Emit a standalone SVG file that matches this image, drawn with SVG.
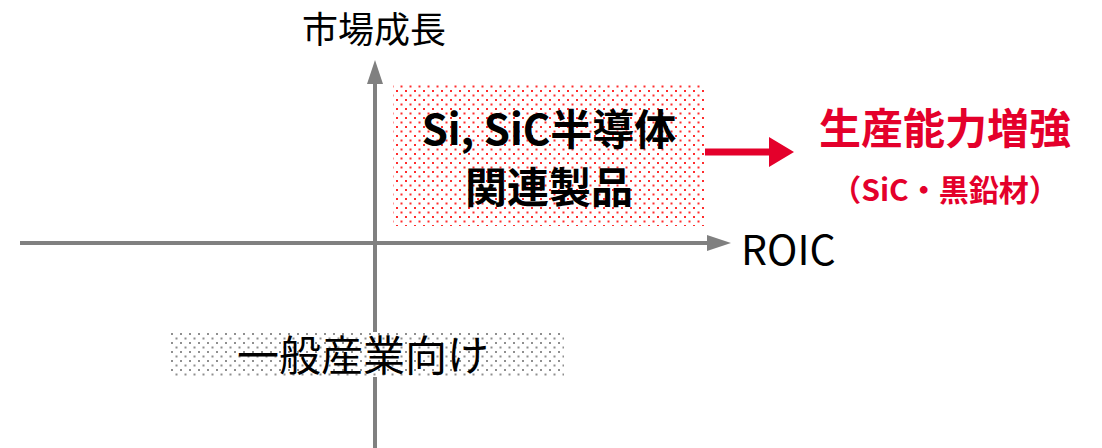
<svg xmlns="http://www.w3.org/2000/svg" width="1102" height="448" viewBox="0 0 1102 448">
<style>
.axis{stroke:#808080;stroke-width:4;fill:none}
.jp{font-family:"Noto Sans CJK JP","Noto Sans",sans-serif}
.blk{fill:#000}
.red{fill:#e4002b}
</style>
<defs>
<pattern id="dotRed" width="9" height="9" patternUnits="userSpaceOnUse">
<rect x="0" y="0" width="2" height="2" fill="#ff2d2d"/>
<rect x="4.5" y="4.5" width="2" height="2" fill="#ff2d2d"/>
</pattern>
<pattern id="dotGray" width="9" height="9" patternUnits="userSpaceOnUse">
<rect x="0" y="0" width="2" height="2" fill="#8f8f8f"/>
<rect x="4.5" y="4.5" width="2" height="2" fill="#8f8f8f"/>
</pattern>
<marker id="headGray" markerWidth="6" markerHeight="4" refX="0" refY="2" orient="auto" markerUnits="strokeWidth">
<path d="M0,0 L6,2 L0,4 Z" fill="#808080"/>
</marker>
</defs>
<rect width="1102" height="448" fill="#fff"/>
<g id="connectors">
<line class="axis" x1="375" y1="448" x2="375" y2="84" marker-end="url(#headGray)"/>
<line class="axis" x1="20" y1="243" x2="707" y2="243" marker-end="url(#headGray)"/>
<path d="M703,148.5 L769,148.5 L769,137 L794,152 L769,167 L769,155.5 L703,155.5 Z" fill="#e4002b"/>
</g>
<g id="label-growth">
<text class="jp blk" x="374" y="43" font-size="36" text-anchor="middle">市場成長</text>
</g>
<g id="label-roic">
<text class="jp blk" x="741" y="265" font-size="41">ROIC</text>
</g>
<g id="node-semiconductor">
<rect x="393" y="85" width="312" height="141" fill="#fff"/>
<rect x="393" y="85" width="312" height="141" fill="url(#dotRed)"/>
<text class="jp blk" x="549" y="145" font-size="42" font-weight="bold" text-anchor="middle">Si, SiC半導体</text>
<text class="jp blk" x="549" y="203" font-size="42" font-weight="bold" text-anchor="middle">関連製品</text>
</g>
<g id="node-general">
<rect x="170" y="332" width="394" height="45" fill="#fff"/>
<rect x="170" y="332" width="394" height="45" fill="url(#dotGray)"/>
<text class="jp blk" x="363" y="371" font-size="42" text-anchor="middle">一般産業向け</text>
</g>
<g id="node-capacity">
<text class="jp red" x="945" y="144" font-size="42" font-weight="bold" text-anchor="middle">生産能力増強</text>
<text class="jp red" x="945" y="201" font-size="30" font-weight="bold" text-anchor="middle">（SiC・黒鉛材）</text>
</g>
</svg>
